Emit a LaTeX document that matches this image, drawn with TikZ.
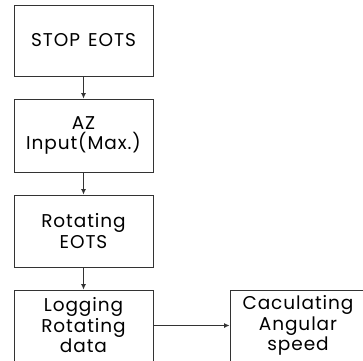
\documentclass[tikz,border=0pt]{standalone}
\usepackage{fontspec}
\setmainfont[LetterSpace=5,WordSpace=1.4]{Poppins}
\usetikzlibrary{arrows.meta}
\begin{document}
\begin{tikzpicture}[x=1pt,y=-1pt,
  flowbox/.style={draw=black!80, line width=0.9pt, rectangle, align=center,
    inner sep=0pt, font=\fontsize{18.5}{20.5}\selectfont},
  flowarrow/.style={draw=black!80, line width=0.9pt,
    -{Latex[length=5.5pt,width=5pt]}}]
  \useasboundingbox (0,0) rectangle (363,360);
  \clip (0,0) rectangle (363,360);
  \node[flowbox, minimum width=139, minimum height=71] (stop) at (83.5,40.5) {STOP EOTS};
  \node[flowbox, minimum width=139, minimum height=73] (az) at (83.5,135.5) {AZ\\Input(Max.)};
  \node[flowbox, minimum width=139, minimum height=72] (rot) at (83.5,231) {Rotating\\EOTS};
  \node[flowbox, minimum width=139, minimum height=71] (log) at (83.5,325.5) {Logging\\Rotating\\data};
  \node[flowbox, minimum width=136, minimum height=71] (calc) at (298,325.5) {Caculating\\Angular\\speed};
  \draw[flowarrow] (stop) -- (az);
  \draw[flowarrow] (az) -- (rot);
  \draw[flowarrow] (rot) -- (log);
  \draw[flowarrow] (log) -- (calc);
\end{tikzpicture}
\end{document}
